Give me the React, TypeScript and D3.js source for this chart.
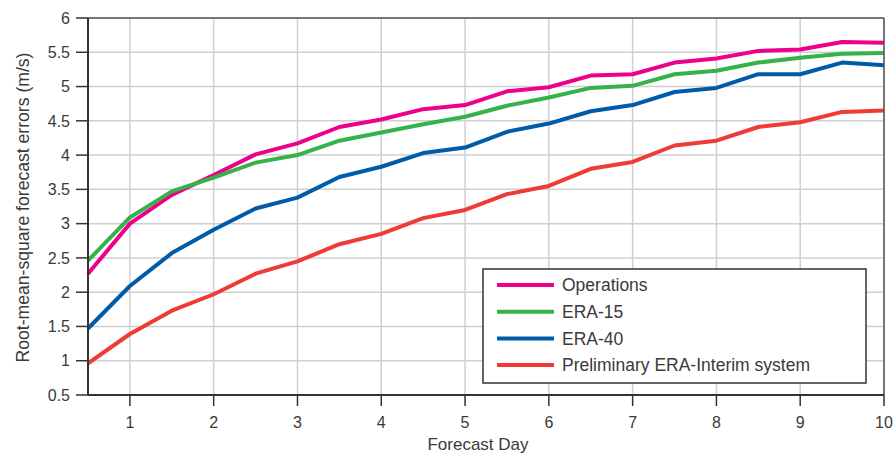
/*
RMS forecast errors by forecast day: d3 scales + line shapes, React renders SVG
*/
import * as d3 from "d3";

const days = [0.5, 1, 1.5, 2, 2.5, 3, 3.5, 4, 4.5, 5, 5.5, 6, 6.5, 7, 7.5, 8, 8.5, 9, 9.5, 10];

const operations = [2.27, 3.0, 3.42, 3.71, 4.01, 4.17, 4.41, 4.52, 4.67, 4.73, 4.93, 4.99, 5.16, 5.18, 5.35, 5.41, 5.52, 5.54, 5.65, 5.64];
const era15 = [2.46, 3.09, 3.47, 3.67, 3.89, 4.0, 4.21, 4.33, 4.45, 4.56, 4.72, 4.84, 4.98, 5.01, 5.18, 5.23, 5.35, 5.42, 5.48, 5.49];
const era40 = [1.47, 2.09, 2.57, 2.91, 3.22, 3.38, 3.68, 3.83, 4.03, 4.11, 4.34, 4.46, 4.64, 4.73, 4.92, 4.98, 5.18, 5.18, 5.35, 5.31];
const eraInterim = [0.96, 1.39, 1.73, 1.97, 2.27, 2.45, 2.7, 2.85, 3.08, 3.2, 3.43, 3.55, 3.8, 3.9, 4.14, 4.21, 4.41, 4.48, 4.63, 4.65];

const seriesNames = ["Operations", "ERA-15", "ERA-40", "Preliminary ERA-Interim system"];
const seriesColors = ["#ec008c", "#36b24a", "#005ca9", "#ef3a36"];
const seriesValues = [operations, era15, era40, eraInterim];

const xTicks = [1, 2, 3, 4, 5, 6, 7, 8, 9, 10];
const yTicks = [0.5, 1, 1.5, 2, 2.5, 3, 3.5, 4, 4.5, 5, 5.5, 6];

export default function App() {
  const width = 893;
  const height = 454;
  const margin = { top: 18, right: 9, bottom: 59, left: 88 };
  const font = "'Liberation Sans', Arial, sans-serif";
  const textColor = "#3a3a3a";

  const x = d3.scaleLinear().domain([0.5, 10]).range([margin.left, width - margin.right]);
  const y = d3.scaleLinear().domain([0.5, 6]).range([height - margin.bottom, margin.top]);

  const line = d3
    .line<number>()
    .x((_, i) => x(days[i]))
    .y((d) => y(d));

  const x0 = x(0.5), x1 = x(10), y0 = y(0.5), y1 = y(6);

  // legend box
  const lg = { x: 483, y: 269, w: 383, h: 114 };

  return (
    <div style={{ position: "fixed", left: 0, top: 0 }}>
      <svg width={width} height={height} style={{ display: "block", background: "#fff" }}>
        {/* grid */}
        {xTicks.map((t) => (
          <line key={"gx" + t} x1={x(t)} x2={x(t)} y1={y1} y2={y0} stroke="#cfcfcf" strokeWidth={1.5} />
        ))}
        {yTicks.map((t) => (
          <line key={"gy" + t} x1={x0} x2={x1} y1={y(t)} y2={y(t)} stroke="#cfcfcf" strokeWidth={1.5} />
        ))}

        {/* series */}
        {seriesValues.map((vals, i) => (
          <path
            key={seriesNames[i]}
            d={line(vals) ?? ""}
            fill="none"
            stroke={seriesColors[i]}
            strokeWidth={4}
            strokeLinejoin="round"
          />
        ))}

        {/* frame */}
        <line x1={x0} x2={x1} y1={y1} y2={y1} stroke="#555" strokeWidth={1.5} />
        <line x1={x1} x2={x1} y1={y1} y2={y0} stroke="#555" strokeWidth={1.5} />
        <line x1={x0} x2={x0} y1={y1} y2={y0} stroke="#333" strokeWidth={2} />
        <line x1={x0} x2={x1} y1={y0} y2={y0} stroke="#333" strokeWidth={2} />

        {/* y axis ticks */}
        {yTicks.map((t) => (
          <g key={"yt" + t}>
            <line x1={x0 - 12} x2={x0} y1={y(t)} y2={y(t)} stroke="#333" strokeWidth={1.5} />
            <text
              x={x0 - 18}
              y={y(t)}
              dy="0.36em"
              textAnchor="end"
              fontFamily={font}
              fontSize={16}
              fill={textColor}
            >
              {t}
            </text>
          </g>
        ))}

        {/* x axis ticks */}
        {xTicks.map((t) => (
          <g key={"xt" + t}>
            <line x1={x(t)} x2={x(t)} y1={y0} y2={y0 + 11} stroke="#333" strokeWidth={1.5} />
            <text
              x={x(t)}
              y={y0 + 33}
              textAnchor="middle"
              fontFamily={font}
              fontSize={16}
              fill={textColor}
            >
              {t}
            </text>
          </g>
        ))}

        {/* axis titles */}
        <text
          x={478}
          y={449.5}
          textAnchor="middle"
          fontFamily={font}
          fontSize={17}
          fill={textColor}
        >
          Forecast Day
        </text>
        <text
          transform={`translate(29,${(y0 + y1) / 2 + 1}) rotate(-90)`}
          textAnchor="middle"
          fontFamily={font}
          fontSize={17.6}
          fill={textColor}
        >
          Root-mean-square forecast errors (m/s)
        </text>

        {/* legend */}
        <rect x={lg.x} y={lg.y} width={lg.w} height={lg.h} fill="#fff" stroke="#333" strokeWidth={1.5} />
        {seriesNames.map((name, i) => {
          const ly = lg.y + 16 + i * 26.7;
          return (
            <g key={"lg" + name}>
              <line x1={lg.x + 14} x2={lg.x + 71} y1={ly} y2={ly} stroke={seriesColors[i]} strokeWidth={4} />
              <text
                x={lg.x + 79}
                y={ly}
                dy="0.36em"
                fontFamily={font}
                fontSize={17.5}
                fill={textColor}
              >
                {name}
              </text>
            </g>
          );
        })}
      </svg>
    </div>
  );
}
